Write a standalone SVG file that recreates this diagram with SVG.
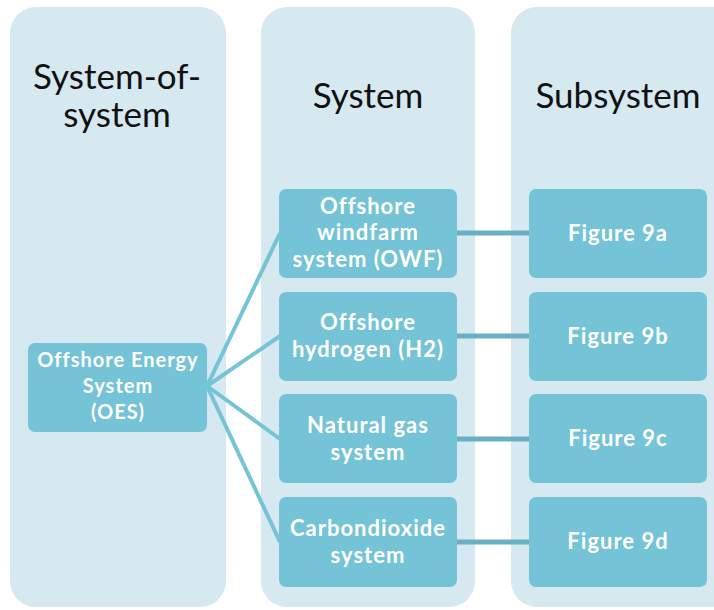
<svg xmlns="http://www.w3.org/2000/svg" width="714" height="610" viewBox="0 0 714 610">
<style>
.panel{fill:#d6e8f0}
.box{fill:#75c3d7}
.hdr{font-family:Lato,"Liberation Sans",sans-serif;font-size:35px;fill:#111;text-anchor:middle}
.lbl{font-family:Lato,"Liberation Sans",sans-serif;font-size:22px;font-weight:bold;fill:#fff;text-anchor:middle;letter-spacing:1px}
.oes{font-family:Lato,"Liberation Sans",sans-serif;font-size:20px;font-weight:bold;fill:#fff;text-anchor:middle;letter-spacing:1px}
.fan{stroke:#75c3d7;stroke-width:4;fill:none}
.link{stroke:#6aafc4;stroke-width:5;fill:none}
</style>
<g id="col-sos"><rect class="panel" x="10" y="7" width="216" height="600" rx="26"/><text class="hdr" x="117" y="89">System-of-</text><text class="hdr" x="117" y="127">system</text></g>
<g id="col-sys"><rect class="panel" x="261" y="7" width="214" height="600" rx="26"/><text class="hdr" x="368" y="108">System</text></g>
<g id="col-sub"><rect class="panel" x="511" y="7" width="240" height="600" rx="26"/><text class="hdr" x="618" y="108">Subsystem</text></g>
<g id="connectors">
<line class="fan" x1="207" y1="386" x2="280" y2="233"/>
<line class="fan" x1="207" y1="386" x2="280" y2="336"/>
<line class="fan" x1="207" y1="386" x2="280" y2="439"/>
<line class="fan" x1="207" y1="386" x2="280" y2="542"/>
<line class="link" x1="457" y1="233" x2="529" y2="233"/>
<line class="link" x1="457" y1="336" x2="529" y2="336"/>
<line class="link" x1="457" y1="439" x2="529" y2="439"/>
<line class="link" x1="457" y1="542" x2="529" y2="542"/>
</g>
<g id="oes"><rect class="box" x="28" y="343" width="179" height="89" rx="7"/><text class="oes" x="118" y="367">Offshore Energy</text><text class="oes" x="118" y="393">System</text><text class="oes" x="118" y="419">(OES)</text></g>
<g id="owf"><rect class="box" x="279" y="189" width="178" height="89" rx="7"/><text class="lbl" x="368" y="214">Offshore</text><text class="lbl" x="368" y="240">windfarm</text><text class="lbl" x="368" y="267">system (OWF)</text></g>
<g id="h2"><rect class="box" x="279" y="292" width="178" height="89" rx="7"/><text class="lbl" x="368" y="330">Offshore</text><text class="lbl" x="368" y="357">hydrogen (H2)</text></g>
<g id="gas"><rect class="box" x="279" y="394" width="178" height="89" rx="7"/><text class="lbl" x="368" y="433">Natural gas</text><text class="lbl" x="368" y="460">system</text></g>
<g id="co2"><rect class="box" x="279" y="497" width="178" height="90" rx="7"/><text class="lbl" x="368" y="536">Carbondioxide</text><text class="lbl" x="368" y="563">system</text></g>
<g id="fig9a"><rect class="box" x="529" y="189" width="178" height="89" rx="7"/><text class="lbl" x="618" y="241">Figure 9a</text></g>
<g id="fig9b"><rect class="box" x="529" y="292" width="178" height="89" rx="7"/><text class="lbl" x="618" y="344">Figure 9b</text></g>
<g id="fig9c"><rect class="box" x="529" y="394" width="178" height="89" rx="7"/><text class="lbl" x="618" y="446">Figure 9c</text></g>
<g id="fig9d"><rect class="box" x="529" y="497" width="178" height="90" rx="7"/><text class="lbl" x="618" y="549">Figure 9d</text></g>
</svg>
